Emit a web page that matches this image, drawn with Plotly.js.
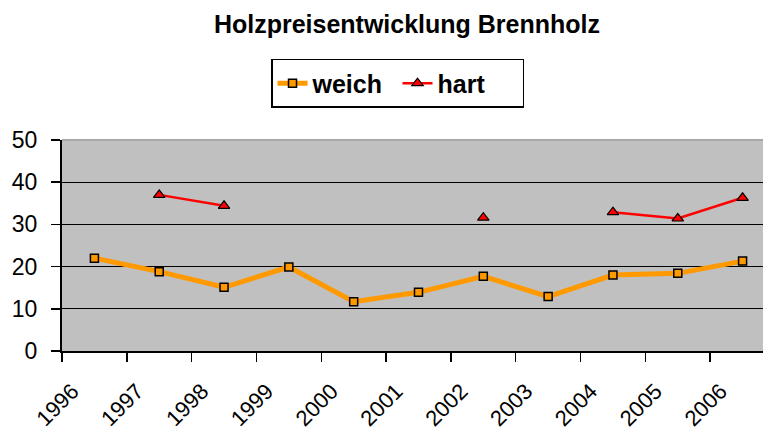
<!DOCTYPE html>
<html>
<head>
<meta charset="utf-8">
<script src="https://cdn.plot.ly/plotly-3.0.1.min.js"></script>
<style>
  html, body { margin: 0; padding: 0; background: #fff; }
  #chart { width: 763px; height: 427px; }
</style>
</head>
<body>
<div id="chart"></div>
<script>
// ---- data ----
const years = ['1996', '1997', '1998', '1999', '2000', '2001', '2002', '2003', '2004', '2005', '2006'];
const weich = [22.0, 18.8, 15.1, 19.9, 11.7, 13.9, 17.7, 12.9, 18.0, 18.4, 21.3];
const hart  = [null, 37.0, 34.4, null, null, null, 31.6, null, 32.9, 31.4, 36.3];
const seriesNames = ['weich', 'hart'];
const chartTitle = 'Holzpreisentwicklung Brennholz';

// ---- style constants ----
const FONT = '"Liberation Sans", Arial, sans-serif';
const labelShift = 0.34;   // rotated labels sit slightly left of category centre
const xRange = [-0.5, 10.315];

const traces = [
  {
    x: years, y: weich, name: seriesNames[0], type: 'scatter', mode: 'lines+markers',
    line: { color: '#FF9900', width: 5 },
    marker: { symbol: 'square', size: 8, color: '#FF9900', line: { color: '#000000', width: 1.5 } },
    connectgaps: false, cliponaxis: false
  },
  {
    x: years, y: hart, name: seriesNames[1], type: 'scatter', mode: 'lines+markers',
    line: { color: '#FF0000', width: 2.5 },
    marker: { symbol: 'triangle-up', size: 10, color: '#FF0000', line: { color: '#000000', width: 1.2 } },
    connectgaps: false, cliponaxis: false
  },
  {
    // carrier for the rotated year labels axis (draws nothing)
    x: years.map((_, i) => i), y: years.map(() => null),
    xaxis: 'x2', yaxis: 'y', type: 'scatter', mode: 'markers',
    showlegend: false, hoverinfo: 'skip', marker: { opacity: 0 }
  }
];

const layout = {
  width: 763, height: 427,
  margin: { l: 62, r: 0, t: 140, b: 76, pad: 0 },
  paper_bgcolor: '#FFFFFF',
  plot_bgcolor: '#C0C0C0',
  font: { family: FONT, color: '#000000' },
  title: {
    text: chartTitle,
    font: { family: FONT, size: 25, color: '#000000', weight: 'bold' },
    xref: 'container', x: 0.5334, xanchor: 'center',
    yref: 'container', y: 0.944, yanchor: 'middle'
  },
  showlegend: true,
  legend: {
    orientation: 'h',
    xref: 'container', x: 0.521, xanchor: 'center',
    yref: 'container', y: 0.862, yanchor: 'top',
    bgcolor: '#FFFFFF', bordercolor: '#000000', borderwidth: 1.5,
    font: { family: FONT, size: 25, color: '#000000', weight: 'bold' },
    entrywidth: 80, entrywidthmode: 'pixels',
    itemclick: false
  },
  xaxis: {
    type: 'category',
    categoryorder: 'array', categoryarray: years,
    range: xRange,
    tickson: 'boundaries',
    ticks: 'outside', ticklen: 9, tickwidth: 1.5, tickcolor: '#000000',
    showticklabels: false,
    showgrid: false, zeroline: false,
    showline: true, linecolor: '#000000', linewidth: 2,
    fixedrange: true
  },
  xaxis2: {
    type: 'linear',
    overlaying: 'x', anchor: 'y', side: 'bottom',
    range: xRange,
    tickmode: 'array',
    tickvals: years.map((_, i) => i - labelShift),
    ticktext: years,
    tickangle: -45,
    ticks: '', ticklen: 0,
    ticklabelstandoff: 22,
    tickfont: { family: FONT, size: 22, color: '#000000' },
    showgrid: false, zeroline: false, showline: false,
    fixedrange: true
  },
  yaxis: {
    range: [0, 50],
    tickmode: 'linear', tick0: 0, dtick: 10,
    ticks: 'outside', ticklen: 9, tickwidth: 1.5, tickcolor: '#000000',
    tickfont: { family: FONT, size: 23, color: '#000000' },
    ticklabelstandoff: 9,
    showgrid: true, gridcolor: '#000000', gridwidth: 1.2,
    zeroline: false,
    showline: true, linecolor: '#000000', linewidth: 2,
    fixedrange: true
  },
  shapes: [
    { type: 'line', xref: 'paper', yref: 'paper', x0: 0, x1: 1, y0: 1, y1: 1,
      line: { color: '#A8A8A8', width: 2 }, layer: 'above' }
  ]
};

Plotly.newPlot('chart', traces, layout, { displayModeBar: false, staticPlot: true });
</script>
</body>
</html>
